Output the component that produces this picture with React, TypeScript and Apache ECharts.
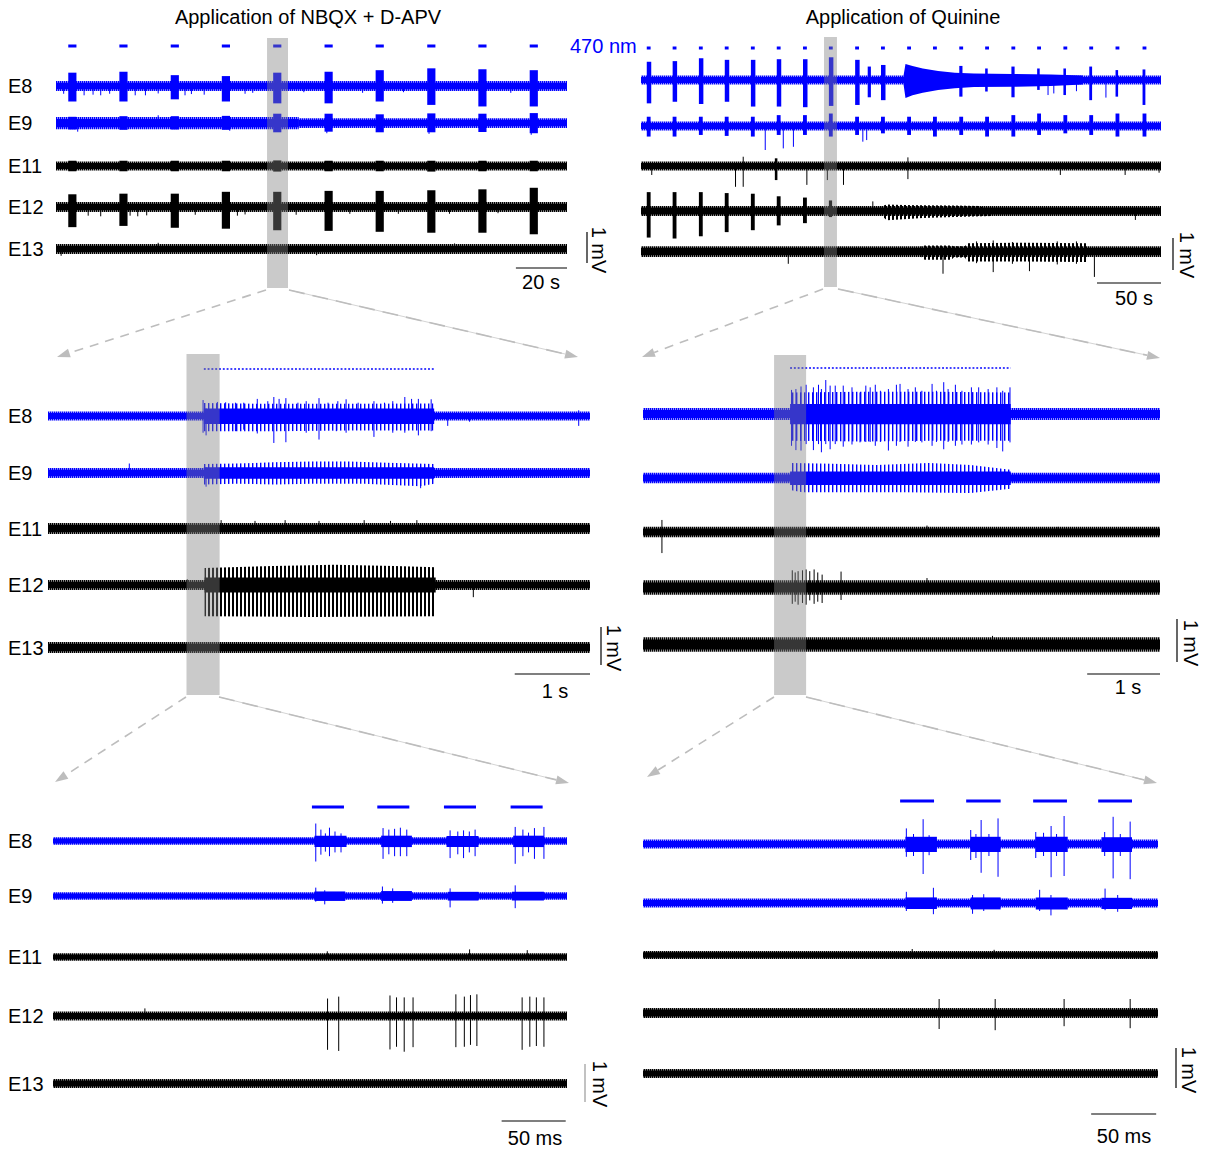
import React, { useEffect, useRef } from "react";
import * as echarts from "echarts";

type Seg = [number, number, number, number]; // [t0, t1, up(mV), down(mV)]
type Spk = [number, number, number]; // [t, up(mV), down(mV)]
type Pt = [number, number]; // [t, mV]

const BLUE = "#0000ff";
const BLACK = "#000000";
const FONT = '20px "Liberation Sans", Arial, Helvetica, sans-serif';

const CHANNELS = ["E8", "E9", "E11", "E12", "E13"];
const TITLES = ["Application of NBQX + D-APV", "Application of Quinine"];
const LIGHT_LABEL = "470 nm";
const SCALE_LABELS = ["20 s", "50 s", "1 s", "1 s", "50 ms", "50 ms"];
const SCALE_LENGTHS = [20, 50, 1, 1, 50, 50];
const SPANS = [200, 406, 7.2, 7.1, 401, 396];

// ---------------- Top-left (s) ----------------
const TL_STIM: Pt[] = [[4.8, 8.0], [24.8, 28.0], [44.9, 48.1], [64.9, 68.1], [85.0, 88.2], [105.1, 108.3], [125.1, 128.3], [145.3, 148.5], [165.3, 168.5], [185.4, 188.6]];
const TL_GRAY: Pt = [82.6, 90.8];
const TL_E8_NOISE: Seg[] = [[0, 200, 0.16, 0.16]];
const TL_E8_BURSTS: Seg[] = [[4.8, 8.0, 0.43, 0.5], [24.8, 28.0, 0.46, 0.5], [44.9, 48.1, 0.35, 0.43], [64.9, 68.1, 0.32, 0.5], [85.0, 88.2, 0.43, 0.56], [105.1, 108.3, 0.46, 0.56], [125.1, 128.3, 0.51, 0.5], [145.3, 148.5, 0.57, 0.61], [165.3, 168.5, 0.54, 0.66], [185.4, 188.6, 0.51, 0.66]];
const TL_E8_SPIKES: Spk[] = [[3, 0.05, 0.25], [11, 0.04, 0.3], [14.5, 0.05, 0.28], [17.5, 0.04, 0.3], [21, 0.05, 0.25], [31, 0.04, 0.3], [35, 0.05, 0.3], [40, 0.05, 0.24], [50.5, 0.04, 0.3], [53, 0.05, 0.26], [58, 0.04, 0.28], [74, 0.05, 0.25], [77, 0.05, 0.22], [97, 0.04, 0.2], [120, 0.05, 0.22], [136, 0.05, 0.2], [178, 0.04, 0.22]];
const TL_E9_NOISE: Seg[] = [[0, 95, 0.19, 0.2], [95, 200, 0.15, 0.16]];
const TL_E9_BURSTS: Seg[] = [[4.8, 8.0, 0.2, 0.21], [24.8, 28.0, 0.22, 0.22], [44.9, 48.1, 0.22, 0.21], [64.9, 68.1, 0.23, 0.22], [85.0, 88.2, 0.3, 0.3], [105.1, 108.3, 0.3, 0.28], [125.1, 128.3, 0.28, 0.3], [145.3, 148.5, 0.31, 0.3], [165.3, 168.5, 0.3, 0.29], [185.4, 188.6, 0.32, 0.33]];
const TL_E9_SPIKES: Spk[] = [[8.5, 0.04, 0.28], [40, 0.25, 0.05], [68, 0.05, 0.25], [106, 0.05, 0.33], [146, 0.05, 0.35], [186, 0.05, 0.38]];
const TL_E11_NOISE: Seg[] = [[0, 200, 0.145, 0.145]];
const TL_E11_BURSTS: Seg[] = [[4.8, 8.0, 0.17, 0.17], [24.8, 28.0, 0.17, 0.17], [44.9, 48.1, 0.17, 0.17], [64.9, 68.1, 0.17, 0.17], [85.0, 88.2, 0.18, 0.18], [105.1, 108.3, 0.17, 0.17], [125.1, 128.3, 0.17, 0.17], [145.3, 148.5, 0.17, 0.18], [165.3, 168.5, 0.17, 0.17], [185.4, 188.6, 0.17, 0.17]];
const TL_E12_NOISE: Seg[] = [[0, 200, 0.16, 0.16]];
const TL_E12_BURSTS: Seg[] = [[4.8, 8.0, 0.41, 0.65], [24.8, 28.0, 0.43, 0.61], [44.9, 48.1, 0.43, 0.67], [64.9, 68.1, 0.49, 0.7], [85.0, 88.2, 0.49, 0.75], [105.1, 108.3, 0.52, 0.77], [125.1, 128.3, 0.52, 0.8], [145.3, 148.5, 0.54, 0.83], [165.3, 168.5, 0.57, 0.83], [185.4, 188.6, 0.62, 0.88]];
const TL_E12_SPIKES: Spk[] = [[12.6, 0.04, 0.28], [17.5, 0.04, 0.3], [29, 0.04, 0.28], [32, 0.04, 0.3], [35.5, 0.04, 0.27], [54.5, 0.04, 0.25], [71, 0.04, 0.28], [74, 0.04, 0.24], [94, 0.04, 0.25], [115, 0.04, 0.22], [134, 0.04, 0.22], [154, 0.04, 0.22], [173, 0.04, 0.2]];
const TL_E13_NOISE: Seg[] = [[0, 200, 0.16, 0.16]];
const TL_E13_SPIKES: Spk[] = [[2, 0.04, 0.22], [40, 0.2, 0.04], [102, 0.04, 0.2], [156, 0.18, 0.04]];

// ---------------- Top-right (s) ----------------
const TR_STIM: Pt[] = [[4.5, 7.5], [24.7, 27.7], [45.2, 48.2], [65.4, 68.4], [85.8, 88.8], [106.0, 109.0], [126.5, 129.5], [146.7, 149.7], [167.2, 170.2], [187.4, 190.4], [207.8, 210.8], [228.0, 231.0], [248.5, 251.5], [268.7, 271.7], [289.2, 292.2], [309.3, 312.3], [329.8, 332.8], [350.0, 353.0], [370.5, 373.5], [391.6, 394.6]];
const TR_GRAY: Pt = [142.9, 153.0];
const TR_E8_NOISE: Seg[] = [[0, 406, 0.14, 0.14]];
const TR_E8_BURSTS: Seg[] = [[4.5, 8, 0.57, 0.73], [24.7, 28.2, 0.59, 0.68], [45.2, 48.7, 0.68, 0.75], [65.4, 68.9, 0.63, 0.68], [85.8, 89.3, 0.63, 0.83], [106.0, 109.5, 0.65, 0.83], [126.5, 130, 0.65, 0.85], [146.7, 150.2, 0.71, 0.81], [167.2, 170.7, 0.63, 0.78], [177.0, 179.5, 0.42, 0.54], [187.4, 190.9, 0.47, 0.63], [248.5, 251, 0.44, 0.52], [268.7, 270.7, 0.36, 0.36], [289.2, 291.7, 0.42, 0.54], [309.3, 311.3, 0.36, 0.31], [329.8, 331.8, 0.36, 0.47], [350.0, 352.2, 0.42, 0.63], [370.5, 372.5, 0.31, 0.52], [391.6, 393.8, 0.33, 0.78]];
const TR_E8_ENV_UP: Pt[] = [[205, 0.14], [206.5, 0.5], [212, 0.44], [220, 0.36], [232, 0.28], [245, 0.23], [260, 0.2], [290, 0.19], [320, 0.17], [345, 0.14]];
const TR_E8_ENV_DN: Pt[] = [[205, 0.14], [206.5, 0.56], [212, 0.48], [220, 0.4], [232, 0.31], [245, 0.26], [260, 0.22], [290, 0.21], [320, 0.19], [345, 0.14]];
const TR_E8_SPIKES: Spk[] = [[317.8, 0.05, 0.47], [322.3, 0.05, 0.42], [363, 0.05, 0.55], [340, 0.05, 0.35]];
const TR_E9_NOISE: Seg[] = [[0, 406, 0.14, 0.14]];
const TR_E9_BURSTS: Seg[] = [[4.5, 7.5, 0.29, 0.33], [24.7, 27.7, 0.29, 0.33], [45.2, 48.2, 0.29, 0.28], [65.4, 68.4, 0.29, 0.31], [85.8, 88.8, 0.29, 0.33], [106.0, 109.0, 0.34, 0.28], [126.5, 129.5, 0.34, 0.28], [146.7, 149.7, 0.39, 0.33], [167.2, 170.2, 0.29, 0.28], [187.4, 190.4, 0.29, 0.23], [207.8, 210.8, 0.29, 0.28], [228.0, 231.0, 0.29, 0.33], [248.5, 251.5, 0.29, 0.28], [268.7, 271.7, 0.29, 0.33], [289.2, 292.2, 0.34, 0.33], [309.3, 312.3, 0.39, 0.28], [329.8, 332.8, 0.34, 0.23], [350.0, 353.0, 0.34, 0.28], [370.5, 373.5, 0.39, 0.33], [391.6, 394.6, 0.39, 0.33]];
const TR_E9_SPIKES: Spk[] = [[97, 0.04, 0.75], [111.1, 0.04, 0.7], [119, 0.04, 0.65], [173.2, 0.04, 0.49], [176.2, 0.04, 0.44]];
const TR_E11_NOISE: Seg[] = [[0, 406, 0.14, 0.14]];
const TR_E11_BURSTS: Seg[] = [[104.5, 106.5, 0.24, 0.44]];
const TR_E11_SPIKES: Spk[] = [[8.4, 0.04, 0.28], [73.8, 0.04, 0.65], [79.8, 0.29, 0.65], [129.5, 0.04, 0.59], [145.5, 0.04, 0.44], [158.1, 0.04, 0.59], [208.4, 0.27, 0.41], [327.4, 0.04, 0.28], [378, 0.04, 0.28], [404.5, 0.04, 0.21]];
const TR_E12_NOISE: Seg[] = [[0, 406, 0.16, 0.16]];
const TR_E12_BURSTS: Seg[] = [[4.5, 7.5, 0.59, 0.83], [24.7, 27.7, 0.59, 0.86], [45.2, 48.2, 0.59, 0.79], [65.4, 68.4, 0.56, 0.66], [85.8, 88.8, 0.54, 0.6], [106.0, 109.0, 0.46, 0.45], [126.5, 129.5, 0.42, 0.38], [146.7, 149.2, 0.33, 0.19]];
const TR_E12_ENV_UP: Pt[] = [[188, 0.16], [192, 0.2], [205, 0.19], [220, 0.18], [245, 0.17], [265, 0.16]];
const TR_E12_ENV_DN: Pt[] = [[188, 0.16], [192, 0.29], [205, 0.26], [220, 0.22], [245, 0.19], [275, 0.16]];
const TR_E12_SPIKES: Spk[] = [[181, 0.3, 0.04], [386, 0.04, 0.28]];
const TR_E13_NOISE: Seg[] = [[0, 406, 0.15, 0.19]];
const TR_E13_ENV_UP: Pt[] = [[219, 0.15], [221.4, 0.17], [242.5, 0.17], [244, 0.15], [253, 0.15], [254.5, 0.24], [300, 0.26], [347.9, 0.24], [349, 0.15]];
const TR_E13_ENV_DN: Pt[] = [[219, 0.19], [221.4, 0.27], [242.5, 0.27], [244, 0.2], [253, 0.2], [254.5, 0.33], [300, 0.33], [347.9, 0.34], [349, 0.19]];
const TR_E13_SPIKES: Spk[] = [[115, 0.04, 0.4], [235.8, 0.04, 0.71], [262, 0.3, 0.38], [275, 0.33, 0.66], [290, 0.28, 0.4], [303.3, 0.04, 0.63], [325, 0.3, 0.42], [340, 0.3, 0.4], [354, 0.04, 0.81]];

// ---------------- Middle-left (s) ----------------
const ML_STIM: Pt[] = [[2.07, 5.13]];
const ML_GRAY: Pt = [1.84, 2.28];
const ML_E8_NOISE: Seg[] = [[0, 7.2, 0.12, 0.12]];
const ML_E8_BURSTS: Seg[] = [[2.07, 5.13, 0.2, 0.21]];
const ML_E8_ENV_UP: Pt[] = [[2.06, 0.34], [3.0, 0.32], [4.0, 0.32], [5.12, 0.33]];
const ML_E8_ENV_DN: Pt[] = [[2.06, 0.4], [3.0, 0.4], [4.0, 0.38], [5.12, 0.38]];
const ML_E8_SPIKES: Spk[] = [[2.06, 0.42, 0.44], [2.1, 0.2, 0.51], [2.25, 0.37, 0.2], [2.36, 0.36, 0.2], [2.49, 0.35, 0.4], [2.6, 0.35, 0.36], [2.78, 0.45, 0.46], [2.92, 0.39, 0.2], [3.0, 0.5, 0.71], [3.07, 0.45, 0.2], [3.16, 0.47, 0.69], [3.32, 0.35, 0.2], [3.43, 0.39, 0.44], [3.6, 0.47, 0.62], [3.72, 0.35, 0.2], [3.83, 0.2, 0.4], [3.85, 0.39, 0.2], [3.96, 0.44, 0.44], [4.12, 0.35, 0.2], [4.33, 0.39, 0.55], [4.47, 0.35, 0.2], [4.58, 0.39, 0.44], [4.74, 0.5, 0.44], [4.83, 0.45, 0.2], [4.92, 0.45, 0.51], [5.09, 0.44, 0.4], [5.31, 0.05, 0.26], [5.6, 0.04, 0.15], [7.05, 0.15, 0.26]];
const ML_E9_NOISE: Seg[] = [[0, 7.2, 0.13, 0.13]];
const ML_E9_BURSTS: Seg[] = [[2.07, 5.13, 0.15, 0.15]];
const ML_E9_ENV_UP: Pt[] = [[2.07, 0.24], [2.5, 0.25], [3.0, 0.28], [3.5, 0.3], [4.0, 0.3], [4.5, 0.27], [5.13, 0.24]];
const ML_E9_ENV_DN: Pt[] = [[2.07, 0.3], [2.5, 0.28], [3.0, 0.3], [3.5, 0.28], [4.2, 0.28], [4.95, 0.35], [5.13, 0.28]];
const ML_E9_SPIKES: Spk[] = [[1.08, 0.25, 0.04], [2.1, 0.15, 0.36], [4.95, 0.15, 0.4]];
const ML_E11_NOISE: Seg[] = [[0, 7.2, 0.145, 0.145]];
const ML_E11_SPIKES: Spk[] = [[2.3, 0.22, 0.04], [2.75, 0.2, 0.04], [3.15, 0.22, 0.05], [3.6, 0.2, 0.04], [4.2, 0.22, 0.04], [4.55, 0.2, 0.05], [4.9, 0.22, 0.04]];
const ML_E12_NOISE: Seg[] = [[0, 7.2, 0.13, 0.13]];
const ML_E12_BURSTS: Seg[] = [[2.08, 5.15, 0.2, 0.2]];
const ML_E12_ENV_UP: Pt[] = [[2.08, 0.45], [3.0, 0.5], [3.8, 0.53], [4.6, 0.5], [5.15, 0.47]];
const ML_E12_ENV_DN: Pt[] = [[2.08, 0.82], [3.5, 0.84], [5.15, 0.82]];
const ML_E12_SPIKES: Spk[] = [[1.85, 0.15, 0.05], [5.65, 0.05, 0.32]];
const ML_E13_NOISE: Seg[] = [[0, 7.2, 0.145, 0.145]];

// ---------------- Middle-right (s) ----------------
const MR_STIM: Pt[] = [[2.02, 5.05]];
const MR_GRAY: Pt = [1.8, 2.24];
const MR_E8_NOISE: Seg[] = [[0, 7.1, 0.14, 0.14]];
const MR_E8_BURSTS: Seg[] = [[2.02, 5.05, 0.23, 0.24]];
const MR_E8_ENV_UP: Pt[] = [[2.02, 0.5], [3.0, 0.52], [4.0, 0.52], [5.05, 0.5]];
const MR_E8_ENV_DN: Pt[] = [[2.02, 0.62], [3.0, 0.64], [4.0, 0.62], [5.05, 0.62]];
const MR_E8_SPIKES: Spk[] = [[2.04, 0.56, 0.74], [2.1, 0.58, 0.84], [2.17, 0.64, 0.85], [2.24, 0.68, 0.7], [2.34, 0.62, 0.84], [2.41, 0.68, 0.7], [2.45, 0.58, 0.89], [2.51, 0.79, 0.7], [2.57, 0.66, 0.82], [2.64, 0.66, 0.7], [2.75, 0.66, 0.76], [2.87, 0.62, 0.71], [2.98, 0.5, 0.66], [3.06, 0.66, 0.65], [3.12, 0.62, 0.65], [3.19, 0.68, 0.74], [3.26, 0.54, 0.65], [3.37, 0.58, 0.85], [3.48, 0.68, 0.74], [3.53, 0.7, 0.65], [3.64, 0.58, 0.76], [3.74, 0.62, 0.65], [3.83, 0.54, 0.66], [3.97, 0.7, 0.74], [4.03, 0.54, 0.65], [4.13, 0.74, 0.82], [4.19, 0.58, 0.65], [4.29, 0.68, 0.74], [4.38, 0.54, 0.71], [4.51, 0.62, 0.71], [4.61, 0.62, 0.66], [4.74, 0.58, 0.71], [4.86, 0.62, 0.79], [4.94, 0.54, 0.87], [5.04, 0.62, 0.66]];
const MR_E9_NOISE: Seg[] = [[0, 7.1, 0.12, 0.12]];
const MR_E9_BURSTS: Seg[] = [[2.02, 5.05, 0.15, 0.16]];
const MR_E9_ENV_UP: Pt[] = [[2.02, 0.35], [2.6, 0.33], [3.2, 0.3], [3.93, 0.35], [4.5, 0.3], [5.05, 0.19]];
const MR_E9_ENV_DN: Pt[] = [[2.02, 0.28], [2.19, 0.33], [3.58, 0.33], [4.5, 0.35], [5.05, 0.25]];
const MR_E11_NOISE: Seg[] = [[0, 7.1, 0.12, 0.12]];
const MR_E11_SPIKES: Spk[] = [[0.26, 0.28, 0.49], [3.9, 0.15, 0.04], [5.7, 0.12, 0.04]];
const MR_E12_NOISE: Seg[] = [[0, 7.1, 0.17, 0.17]];
const MR_E12_SPIKES: Spk[] = [[2.05, 0.4, 0.38], [2.09, 0.35, 0.33], [2.13, 0.38, 0.4], [2.19, 0.4, 0.36], [2.24, 0.42, 0.4], [2.29, 0.38, 0.3], [2.35, 0.42, 0.38], [2.4, 0.35, 0.33], [2.46, 0.3, 0.36], [2.72, 0.37, 0.29], [3.9, 0.22, 0.05]];
const MR_E13_NOISE: Seg[] = [[0, 7.1, 0.17, 0.17]];
const MR_E13_SPIKES: Spk[] = [[4.8, 0.2, 0.04]];

// ---------------- Bottom-left (ms) ----------------
const BL_STIM: Pt[] = [[202, 227], [253, 278], [305, 330], [357, 382]];
const BL_E8_NOISE: Seg[] = [[0, 401, 0.1, 0.1]];
const BL_E8_BURSTS: Seg[] = [[204, 229, 0.14, 0.16], [256, 280, 0.14, 0.16], [307, 332, 0.13, 0.16], [359, 383, 0.14, 0.16]];
const BL_E8_SPIKES: Spk[] = [[205, 0.46, 0.54], [209, 0.3, 0.36], [212.5, 0.2, 0.28], [215.7, 0.35, 0.4], [220, 0.25, 0.3], [224.7, 0.2, 0.3], [257.5, 0.34, 0.47], [262, 0.3, 0.35], [266.5, 0.32, 0.4], [271, 0.35, 0.4], [276, 0.3, 0.4], [309.8, 0.28, 0.45], [315.8, 0.25, 0.35], [320.3, 0.28, 0.45], [324.8, 0.25, 0.3], [329.3, 0.3, 0.4], [360.6, 0.37, 0.6], [366.6, 0.3, 0.4], [371, 0.22, 0.3], [375.6, 0.34, 0.47], [383, 0.37, 0.47]];
const BL_E9_NOISE: Seg[] = [[0, 401, 0.1, 0.1]];
const BL_E9_BURSTS: Seg[] = [[204, 228, 0.12, 0.13], [256, 280, 0.13, 0.13], [308, 332, 0.11, 0.12], [358, 383, 0.11, 0.12]];
const BL_E9_SPIKES: Spk[] = [[205, 0.22, 0.15], [212, 0.15, 0.22], [257, 0.25, 0.2], [265, 0.2, 0.18], [309.8, 0.2, 0.3], [360.6, 0.28, 0.32]];
const BL_E11_NOISE: Seg[] = [[0, 401, 0.1, 0.1]];
const BL_E11_SPIKES: Spk[] = [[214, 0.15, 0.04], [325, 0.2, 0.05], [370, 0.18, 0.05]];
const BL_E12_NOISE: Seg[] = [[0, 401, 0.12, 0.12]];
const BL_E12_SPIKES: Spk[] = [[71.7, 0.2, 0.04], [214.2, 0.46, 0.89], [222.9, 0.51, 0.92], [262.9, 0.54, 0.88], [268.0, 0.49, 0.81], [274.0, 0.49, 0.94], [280.9, 0.49, 0.82], [314.3, 0.57, 0.82], [320.9, 0.51, 0.81], [325.7, 0.55, 0.76], [330.7, 0.57, 0.79], [366.0, 0.49, 0.89], [372.0, 0.51, 0.81], [377.1, 0.49, 0.79], [383.0, 0.49, 0.81]];
const BL_E13_NOISE: Seg[] = [[0, 401, 0.12, 0.12]];

// ---------------- Bottom-right (ms) ----------------
const BR_STIM: Pt[] = [[197.7, 223.8], [248.5, 275], [300, 326], [350, 376]];
const BR_E8_NOISE: Seg[] = [[0, 396, 0.11, 0.11]];
const BR_E8_BURSTS: Seg[] = [[201.8, 226, 0.18, 0.2], [252, 275, 0.18, 0.2], [302, 326.6, 0.18, 0.2], [352.5, 376, 0.17, 0.2]];
const BR_E8_SPIKES: Spk[] = [[202.5, 0.39, 0.32], [208, 0.25, 0.3], [215.4, 0.62, 0.75], [220, 0.22, 0.28], [252, 0.35, 0.4], [256, 0.25, 0.35], [260, 0.6, 0.72], [266, 0.25, 0.3], [273, 0.64, 0.82], [302, 0.3, 0.35], [308, 0.28, 0.3], [313.8, 0.45, 0.83], [318, 0.25, 0.3], [323.8, 0.7, 0.8], [355, 0.3, 0.3], [361.5, 0.68, 0.86], [367, 0.25, 0.3], [374.6, 0.56, 0.88]];
const BR_E9_NOISE: Seg[] = [[0, 396, 0.11, 0.11]];
const BR_E9_BURSTS: Seg[] = [[201.8, 226, 0.14, 0.15], [252, 275, 0.14, 0.16], [302, 326.6, 0.14, 0.16], [352.5, 376, 0.13, 0.15]];
const BR_E9_SPIKES: Spk[] = [[202.5, 0.28, 0.2], [223.3, 0.38, 0.28], [253.4, 0.2, 0.27], [262, 0.22, 0.2], [305, 0.33, 0.2], [313.7, 0.2, 0.31], [355.3, 0.36, 0.18], [365, 0.2, 0.22]];
const BR_E11_NOISE: Seg[] = [[0, 396, 0.1, 0.1]];
const BR_E11_SPIKES: Spk[] = [[207, 0.15, 0.04], [270, 0.13, 0.04]];
const BR_E12_NOISE: Seg[] = [[0, 396, 0.125, 0.125]];
const BR_E12_SPIKES: Spk[] = [[227.7, 0.35, 0.4], [270.8, 0.35, 0.43], [323.8, 0.35, 0.33], [374.6, 0.35, 0.38]];
const BR_E13_NOISE: Seg[] = [[0, 396, 0.11, 0.11]];

// ---------------- Layout ----------------
interface Trace { noise: Seg[]; bursts?: Seg[]; spikes?: Spk[]; envUp?: Pt[]; envDn?: Pt[]; env?: "solid" | "thin" | "thick" }
interface Panel {
  left: number; top: number; width: number; height: number; ppm: number; chY: number[];
  stim: Pt[]; stimKind: "bar" | "dotted"; stimY: number; gray?: Pt; traces: Trace[];
  hbarY: number; hbarEnd: number; vbarX: number; vbarBottom: number;
  mvText: [number, number]; sText: [number, number]; labels: boolean; vbarColor: string;
}

const PANELS: Panel[] = [
  {
    left: 56, top: 38, width: 511, height: 250, ppm: 31, chY: [86, 123, 166, 207, 249],
    stim: TL_STIM, stimKind: "bar", stimY: 46, gray: TL_GRAY,
    traces: [
      { noise: TL_E8_NOISE, bursts: TL_E8_BURSTS, spikes: TL_E8_SPIKES },
      { noise: TL_E9_NOISE, bursts: TL_E9_BURSTS, spikes: TL_E9_SPIKES },
      { noise: TL_E11_NOISE, bursts: TL_E11_BURSTS },
      { noise: TL_E12_NOISE, bursts: TL_E12_BURSTS, spikes: TL_E12_SPIKES },
      { noise: TL_E13_NOISE, spikes: TL_E13_SPIKES },
    ],
    hbarY: 268, hbarEnd: 200, vbarX: 587, vbarBottom: 263, mvText: [599, 250], sText: [541, 282], labels: true, vbarColor: BLACK,
  },
  {
    left: 641, top: 37, width: 520, height: 250, ppm: 32, chY: [80, 126, 166, 211, 251],
    stim: TR_STIM, stimKind: "bar", stimY: 48, gray: TR_GRAY,
    traces: [
      { noise: TR_E8_NOISE, bursts: TR_E8_BURSTS, spikes: TR_E8_SPIKES, envUp: TR_E8_ENV_UP, envDn: TR_E8_ENV_DN, env: "solid" },
      { noise: TR_E9_NOISE, bursts: TR_E9_BURSTS, spikes: TR_E9_SPIKES },
      { noise: TR_E11_NOISE, bursts: TR_E11_BURSTS, spikes: TR_E11_SPIKES },
      { noise: TR_E12_NOISE, bursts: TR_E12_BURSTS, spikes: TR_E12_SPIKES, envUp: TR_E12_ENV_UP, envDn: TR_E12_ENV_DN, env: "thick" },
      { noise: TR_E13_NOISE, spikes: TR_E13_SPIKES, envUp: TR_E13_ENV_UP, envDn: TR_E13_ENV_DN, env: "thick" },
    ],
    hbarY: 283, hbarEnd: 406, vbarX: 1173, vbarBottom: 270, mvText: [1187, 255], sText: [1134, 298], labels: false, vbarColor: BLACK,
  },
  {
    left: 48, top: 354, width: 542, height: 341, ppm: 38, chY: [416, 473, 528.5, 585, 647.5],
    stim: ML_STIM, stimKind: "dotted", stimY: 369, gray: ML_GRAY,
    traces: [
      { noise: ML_E8_NOISE, bursts: ML_E8_BURSTS, spikes: ML_E8_SPIKES, envUp: ML_E8_ENV_UP, envDn: ML_E8_ENV_DN, env: "thin" },
      { noise: ML_E9_NOISE, bursts: ML_E9_BURSTS, spikes: ML_E9_SPIKES, envUp: ML_E9_ENV_UP, envDn: ML_E9_ENV_DN, env: "thin" },
      { noise: ML_E11_NOISE, spikes: ML_E11_SPIKES },
      { noise: ML_E12_NOISE, bursts: ML_E12_BURSTS, spikes: ML_E12_SPIKES, envUp: ML_E12_ENV_UP, envDn: ML_E12_ENV_DN, env: "thick" },
      { noise: ML_E13_NOISE },
    ],
    hbarY: 674, hbarEnd: 7.2, vbarX: 601, vbarBottom: 665, mvText: [614, 648], sText: [555, 691], labels: true, vbarColor: BLACK,
  },
  {
    left: 643, top: 355, width: 517, height: 340, ppm: 43, chY: [414, 478, 532, 587.5, 644.5],
    stim: MR_STIM, stimKind: "dotted", stimY: 368, gray: MR_GRAY,
    traces: [
      { noise: MR_E8_NOISE, bursts: MR_E8_BURSTS, spikes: MR_E8_SPIKES, envUp: MR_E8_ENV_UP, envDn: MR_E8_ENV_DN, env: "thin" },
      { noise: MR_E9_NOISE, bursts: MR_E9_BURSTS, envUp: MR_E9_ENV_UP, envDn: MR_E9_ENV_DN, env: "thin" },
      { noise: MR_E11_NOISE, spikes: MR_E11_SPIKES },
      { noise: MR_E12_NOISE, spikes: MR_E12_SPIKES },
      { noise: MR_E13_NOISE, spikes: MR_E13_SPIKES },
    ],
    hbarY: 674, hbarEnd: 7.1, vbarX: 1177, vbarBottom: 662, mvText: [1191, 643], sText: [1128, 687], labels: false, vbarColor: BLACK,
  },
  {
    left: 53, top: 790, width: 514, height: 340, ppm: 38, chY: [841, 896, 957, 1016, 1083.5],
    stim: BL_STIM, stimKind: "bar", stimY: 807,
    traces: [
      { noise: BL_E8_NOISE, bursts: BL_E8_BURSTS, spikes: BL_E8_SPIKES },
      { noise: BL_E9_NOISE, bursts: BL_E9_BURSTS, spikes: BL_E9_SPIKES },
      { noise: BL_E11_NOISE, spikes: BL_E11_SPIKES },
      { noise: BL_E12_NOISE, spikes: BL_E12_SPIKES },
      { noise: BL_E13_NOISE },
    ],
    hbarY: 1121, hbarEnd: 400, vbarX: 585, vbarBottom: 1102, mvText: [600, 1084], sText: [535, 1138], labels: true, vbarColor: "#999999",
  },
  {
    left: 643, top: 790, width: 515, height: 340, ppm: 40, chY: [844, 903, 955, 1013, 1073.5],
    stim: BR_STIM, stimKind: "bar", stimY: 801,
    traces: [
      { noise: BR_E8_NOISE, bursts: BR_E8_BURSTS, spikes: BR_E8_SPIKES },
      { noise: BR_E9_NOISE, bursts: BR_E9_BURSTS, spikes: BR_E9_SPIKES },
      { noise: BR_E11_NOISE, spikes: BR_E11_SPIKES },
      { noise: BR_E12_NOISE, spikes: BR_E12_SPIKES },
      { noise: BR_E13_NOISE },
    ],
    hbarY: 1114, hbarEnd: 394.6, vbarX: 1176, vbarBottom: 1088, mvText: [1189, 1070], sText: [1124, 1136], labels: false, vbarColor: BLACK,
  },
];

// zoom arrows: [x1, y1, x2, y2, solidUnderlay]
const ARROWS: number[][] = [
  [266, 290, 57, 357, 0], [289, 290, 578, 357, 1],
  [823, 289, 642, 357, 0], [838, 289, 1160, 358, 1],
  [186, 697, 55, 782, 0], [219, 697, 569, 783, 1],
  [774, 697, 647, 777, 0], [806, 697, 1157, 783, 1],
];

function makePattern(color: string, period: number, solidW: number, softAlpha: number) {
  const c = document.createElement("canvas");
  c.width = period;
  c.height = 4;
  const ctx = c.getContext("2d");
  if (ctx) {
    ctx.fillStyle = color;
    ctx.fillRect(0, 0, solidW, 4);
    if (softAlpha > 0) {
      ctx.globalAlpha = softAlpha;
      ctx.fillRect(solidW, 0, 1, 4);
    }
  }
  return { image: c, repeat: "repeat", imageWidth: period, imageHeight: 4 };
}

function buildOption() {
  const grid: any[] = [];
  const xAxis: any[] = [];
  const yAxis: any[] = [];
  const series: any[] = [];
  const graphic: any[] = [];
  const pats: Record<string, any> = {
    [BLUE + "thin"]: makePattern(BLUE, 4, 1, 0.4),
    [BLACK + "thin"]: makePattern(BLACK, 4, 1, 0.4),
    [BLUE + "thick"]: makePattern(BLUE, 4, 2, 0),
    [BLACK + "thick"]: makePattern(BLACK, 4, 2, 0),
    [BLUE + "fringe"]: makePattern(BLUE, 2, 1, 0.45),
    [BLACK + "fringe"]: makePattern(BLACK, 2, 1, 0.45),
  };

  PANELS.forEach((p, i) => {
    const ymax = p.height / p.ppm;
    const bottom = p.top + p.height;
    grid.push({ left: p.left, top: p.top, width: p.width, height: p.height, containLabel: false });
    xAxis.push({ type: "value", gridIndex: i, min: 0, max: SPANS[i], show: false });
    yAxis.push({ type: "value", gridIndex: i, min: 0, max: ymax, show: false });
    const common = { type: "custom", xAxisIndex: i, yAxisIndex: i, silent: true, animation: false };

    p.traces.forEach((tr, c) => {
      const color = c < 2 ? BLUE : BLACK;
      const base = (bottom - p.chY[c]) / p.ppm;
      const rectItem = (api: any, fill: any, k: number) => {
        const a = api.coord([api.value(0), base + api.value(2) * k]);
        const b = api.coord([api.value(1), base - api.value(3) * k]);
        return { type: "rect", shape: { x: a[0], y: a[1], width: Math.max(b[0] - a[0], 1.2), height: b[1] - a[1] }, style: { fill } };
      };
      // noise band: fuzzy fringe + solid core
      series.push({ ...common, z: 2, data: tr.noise, renderItem: (_: any, api: any) => rectItem(api, pats[color + "fringe"], 1) });
      series.push({ ...common, z: 2, data: tr.noise, renderItem: (_: any, api: any) => rectItem(api, color, 0.68) });
      if (tr.envUp && tr.envDn) {
        const up = tr.envUp;
        const dn = tr.envDn;
        const fill = tr.env && tr.env !== "solid" ? pats[color + tr.env] : color;
        series.push({
          ...common, z: 3, data: [[up[0][0], base]],
          renderItem: (_: any, api: any) => {
            const pts = up.map(([t, v]) => api.coord([t, base + v]))
              .concat(dn.slice().reverse().map(([t, v]) => api.coord([t, base - v])));
            return { type: "polygon", shape: { points: pts }, style: { fill } };
          },
        });
      }
      if (tr.bursts) series.push({ ...common, z: 4, data: tr.bursts, renderItem: (_: any, api: any) => rectItem(api, color, 1) });
      if (tr.spikes) {
        series.push({
          ...common, z: 5, data: tr.spikes,
          renderItem: (_: any, api: any) => {
            const t = api.value(0);
            const a = api.coord([t, base + api.value(1)]);
            const b = api.coord([t, base - api.value(2)]);
            return { type: "line", shape: { x1: a[0], y1: a[1], x2: b[0], y2: b[1] }, style: { stroke: color, lineWidth: 1 } };
          },
        });
      }
    });

    // stimulation markers
    const sy = (bottom - p.stimY) / p.ppm;
    series.push({
      ...common, z: 5, data: p.stim,
      renderItem: (_: any, api: any) => {
        const a = api.coord([api.value(0), sy]);
        const b = api.coord([api.value(1), sy]);
        if (p.stimKind === "dotted") {
          return { type: "line", shape: { x1: a[0], y1: a[1], x2: b[0], y2: b[1] }, style: { stroke: BLUE, lineWidth: 1.5, lineDash: [1.9, 1.9] } };
        }
        return { type: "rect", shape: { x: a[0], y: a[1] - 1.5, width: b[0] - a[0], height: 3 }, style: { fill: BLUE } };
      },
    });

    // gray zoom window
    if (p.gray) {
      series.push({
        ...common, z: 10, data: [p.gray],
        renderItem: (_: any, api: any) => {
          const a = api.coord([api.value(0), ymax]);
          const b = api.coord([api.value(1), 0]);
          return { type: "rect", shape: { x: a[0], y: a[1], width: b[0] - a[0], height: b[1] - a[1] }, style: { fill: "rgba(128,128,128,0.42)" } };
        },
      });
    }

    // scale bars
    const hy = (bottom - p.hbarY) / p.ppm;
    const vy = (bottom - p.vbarBottom) / p.ppm;
    series.push({
      ...common, z: 6, data: [[p.hbarEnd - SCALE_LENGTHS[i], p.hbarEnd]],
      renderItem: (_: any, api: any) => {
        const a = api.coord([api.value(0), hy]);
        const b = api.coord([api.value(1), hy]);
        const v0 = api.coord([api.value(1), vy]);
        const v1 = api.coord([api.value(1), vy + 1]);
        return {
          type: "group",
          children: [
            { type: "line", shape: { x1: a[0], y1: a[1], x2: b[0], y2: b[1] }, style: { stroke: BLACK, lineWidth: 1.2 } },
            { type: "line", shape: { x1: p.vbarX, y1: v0[1], x2: p.vbarX, y2: v1[1] }, style: { stroke: p.vbarColor, lineWidth: 1.2 } },
          ],
        };
      },
    });

    graphic.push({
      type: "text", x: p.mvText[0], y: p.mvText[1], rotation: -Math.PI / 2, silent: true,
      style: { text: "1 mV", fill: BLACK, font: FONT, align: "center", verticalAlign: "middle", textAlign: "center", textVerticalAlign: "middle" },
    });
    graphic.push({
      type: "text", x: p.sText[0], y: p.sText[1], silent: true,
      style: { text: SCALE_LABELS[i], fill: BLACK, font: FONT, align: "center", verticalAlign: "middle", textAlign: "center", textVerticalAlign: "middle" },
    });
    if (p.labels) {
      CHANNELS.forEach((name, c) => {
        graphic.push({
          type: "text", x: 8, y: p.chY[c], silent: true,
          style: { text: name, fill: BLACK, font: FONT, align: "left", verticalAlign: "middle", textAlign: "left", textVerticalAlign: "middle" },
        });
      });
    }
  });

  graphic.push({ type: "text", x: 308, y: 17, silent: true, style: { text: TITLES[0], fill: BLACK, font: FONT, align: "center", verticalAlign: "middle", textAlign: "center", textVerticalAlign: "middle" } });
  graphic.push({ type: "text", x: 903, y: 17, silent: true, style: { text: TITLES[1], fill: BLACK, font: FONT, align: "center", verticalAlign: "middle", textAlign: "center", textVerticalAlign: "middle" } });
  graphic.push({ type: "text", x: 570, y: 46, silent: true, style: { text: LIGHT_LABEL, fill: BLUE, font: FONT, align: "left", verticalAlign: "middle", textAlign: "left", textVerticalAlign: "middle" } });

  ARROWS.forEach(([x1, y1, x2, y2, solid]) => {
    const dx = x2 - x1;
    const dy = y2 - y1;
    const len = Math.sqrt(dx * dx + dy * dy);
    const ux = dx / len;
    const uy = dy / len;
    const bx = x2 - ux * 13;
    const by = y2 - uy * 13;
    if (solid) {
      graphic.push({ type: "line", silent: true, shape: { x1, y1, x2: bx, y2: by }, style: { stroke: "#d4d4d4", lineWidth: 1 } });
    }
    graphic.push({ type: "line", silent: true, shape: { x1, y1, x2: bx, y2: by }, style: { stroke: "#bdbdbd", lineWidth: 1.6, lineDash: solid ? [16, 8] : [9, 7] } });
    graphic.push({
      type: "polygon", silent: true,
      shape: { points: [[x2, y2], [bx - uy * 4.5, by + ux * 4.5], [bx + uy * 4.5, by - ux * 4.5]] },
      style: { fill: "#bdbdbd" },
    });
  });

  return { animation: false, backgroundColor: "#ffffff", grid, xAxis, yAxis, series, graphic };
}

export default function App() {
  const ref = useRef<HTMLDivElement>(null);
  useEffect(() => {
    if (!ref.current) return;
    const chart = echarts.init(ref.current, null, { renderer: "svg" });
    chart.setOption(buildOption() as any);
    return () => chart.dispose();
  }, []);
  return <div ref={ref} style={{ position: "fixed", left: 0, top: 0, width: 1205, height: 1150, background: "#fff" }} />;
}
